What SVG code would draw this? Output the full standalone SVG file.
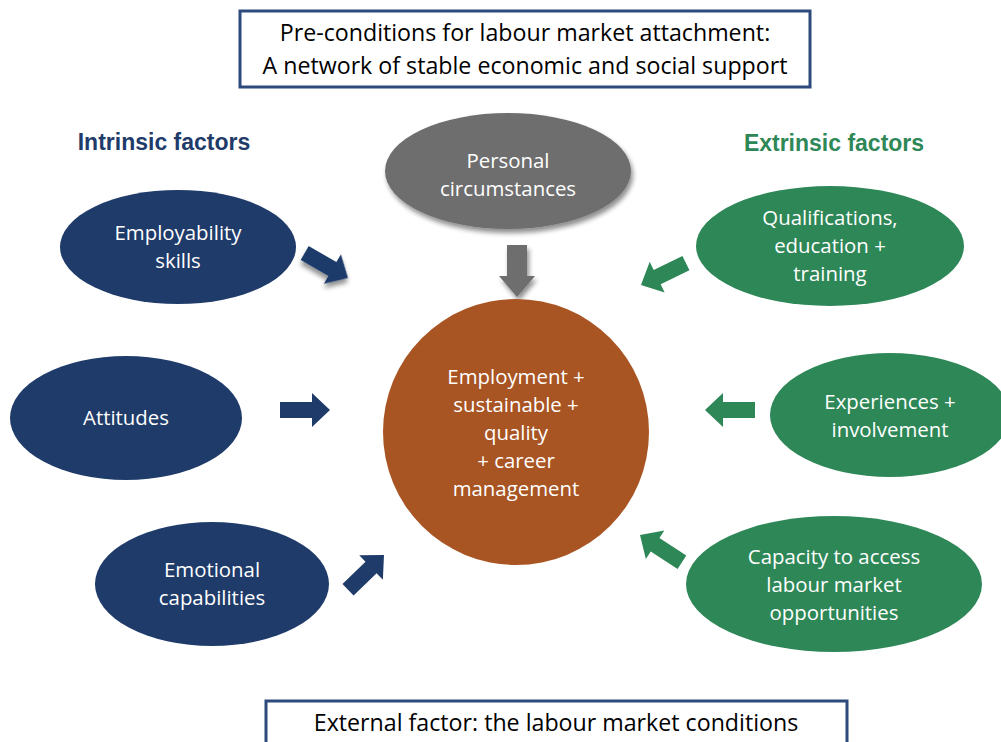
<svg xmlns="http://www.w3.org/2000/svg" width="1001" height="742" viewBox="0 0 1001 742">
<defs>
<style>
.t{font-family:"Open Sans","Liberation Sans",Arial,sans-serif;font-size:20.4px;fill:#fff;text-anchor:middle}
.bx{fill:#fff;stroke:#2c4a7c;stroke-width:3}
.bt{font-family:"Open Sans","Liberation Sans",Arial,sans-serif;font-size:23.2px;fill:#000;text-anchor:middle}
.h{font-family:"Liberation Sans",Arial,sans-serif;font-size:23px;font-weight:bold;text-anchor:middle}
.navy{fill:#1f3b6a}
.green{fill:#2e8757}
</style>
<filter id="sh" x="-30%" y="-30%" width="160%" height="160%">
<feGaussianBlur in="SourceAlpha" stdDeviation="2.5"/>
<feOffset dx="2" dy="4" result="b"/>
<feComponentTransfer><feFuncA type="linear" slope="0.45"/></feComponentTransfer>
<feMerge><feMergeNode/><feMergeNode in="SourceGraphic"/></feMerge>
</filter>
<path id="ar" d="M-50,-8 L-18,-8 L-18,-17 L0,0 L-18,17 L-18,8 L-50,8 Z"/>
</defs>
<rect width="1001" height="742" fill="#fff"/>

<g id="top-box">
<rect class="bx" x="240" y="11" width="570" height="76"/>
<text class="bt" x="525" y="41">Pre-conditions for labour market attachment:</text>
<text class="bt" x="525" y="74">A network of stable economic and social support</text>
</g>

<g id="bottom-box">
<rect class="bx" x="266" y="701" width="581" height="50"/>
<text class="bt" x="556" y="731">External factor: the labour market conditions</text>
</g>

<text class="h" x="164" y="150" fill="#1f3b6a">Intrinsic factors</text>
<text class="h" x="834" y="151" fill="#2e8757">Extrinsic factors</text>

<g id="connectors">
<use href="#ar" class="navy" transform="translate(348,278) rotate(30)" filter="url(#sh)"/>
<use href="#ar" class="navy" transform="translate(330,410)"/>
<use href="#ar" class="navy" transform="translate(384,555) rotate(-44)"/>
<path fill="#6e6e6e" filter="url(#sh)" d="M507,245 L527,245 L527,276 L535,276 L517,297 L499,276 L507,276 Z"/>
<use href="#ar" class="green" transform="translate(641,285) rotate(154)"/>
<use href="#ar" class="green" transform="translate(705,410) rotate(180)"/>
<use href="#ar" class="green" transform="translate(640,535) rotate(213)"/>
</g>

<g id="personal">
<ellipse cx="508" cy="171" rx="123" ry="58" fill="#6e6e6e" filter="url(#sh)"/>
<text class="t" x="508" y="168">Personal</text>
<text class="t" x="508" y="196">circumstances</text>
</g>

<g id="center">
<circle cx="516" cy="432" r="133" fill="#a85423"/>
<text class="t" x="516" y="384">Employment +</text>
<text class="t" x="516" y="412">sustainable +</text>
<text class="t" x="516" y="440">quality</text>
<text class="t" x="516" y="468">+ career</text>
<text class="t" x="516" y="496">management</text>
</g>

<g id="employability">
<ellipse cx="178" cy="247" rx="118" ry="57" class="navy"/>
<text class="t" x="178" y="240">Employability</text>
<text class="t" x="178" y="268">skills</text>
</g>

<g id="attitudes">
<ellipse cx="126" cy="418" rx="116" ry="62" class="navy"/>
<text class="t" x="126" y="425">Attitudes</text>
</g>

<g id="emotional">
<ellipse cx="212" cy="584" rx="117" ry="62" class="navy"/>
<text class="t" x="212" y="577">Emotional</text>
<text class="t" x="212" y="605">capabilities</text>
</g>

<g id="qualifications">
<ellipse cx="830" cy="246" rx="134" ry="60" class="green"/>
<text class="t" x="830" y="225">Qualifications,</text>
<text class="t" x="830" y="253">education +</text>
<text class="t" x="830" y="281">training</text>
</g>

<g id="experiences">
<ellipse cx="890" cy="415" rx="120" ry="62" class="green"/>
<text class="t" x="890" y="409">Experiences +</text>
<text class="t" x="890" y="437">involvement</text>
</g>

<g id="capacity">
<ellipse cx="834" cy="584" rx="148" ry="68" class="green"/>
<text class="t" x="834" y="564">Capacity to access</text>
<text class="t" x="834" y="592">labour market</text>
<text class="t" x="834" y="620">opportunities</text>
</g>
</svg>
